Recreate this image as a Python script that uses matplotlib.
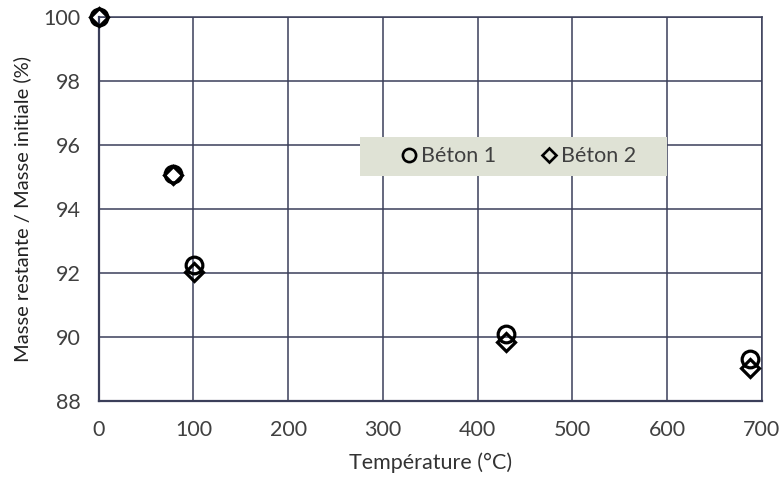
import matplotlib
matplotlib.use('Agg')
import matplotlib.pyplot as plt
from matplotlib.lines import Line2D
from matplotlib.patches import Rectangle

plt.rcParams['font.family'] = ['Lato', 'DejaVu Sans']

# données
temp_1 = [0, 78, 101, 430, 687]
masse_1 = [100, 95.1, 92.25, 90.1, 89.3]
temp_2 = [0, 78, 101, 430, 687]
masse_2 = [100, 95.05, 92.03, 89.85, 89.03]

x_ticks = [0, 100, 200, 300, 400, 500, 600, 700]
y_ticks = [88, 90, 92, 94, 96, 98, 100]

grid_col = '#3b3f5a'
txt_col = '#404040'

fig = plt.figure(figsize=(7.83, 4.86), dpi=100)
ax = fig.add_axes([0.126, 0.175, 0.847, 0.79])

ax.plot(temp_1, masse_1, linestyle='none', marker='o', markersize=12,
        markerfacecolor='none', markeredgecolor='black', markeredgewidth=2.3,
        label='Béton 1', zorder=3, clip_on=False)
ax.plot(temp_2, masse_2, linestyle='none', marker='D', markersize=9.5,
        markerfacecolor='none', markeredgecolor='black', markeredgewidth=2.3,
        label='Béton 2', zorder=3, clip_on=False)

ax.set_xlim(0, 700)
ax.set_ylim(88, 100)
ax.set_xticks(x_ticks)
ax.set_yticks(y_ticks)
ax.grid(True, color=grid_col, linewidth=1.1)
ax.set_axisbelow(True)
for s in ax.spines.values():
    s.set_color(grid_col)
    s.set_linewidth(1.1)
ax.spines['left'].set_linewidth(1.6)
ax.spines['bottom'].set_linewidth(1.6)
ax.tick_params(axis='both', length=0, labelsize=15.5, labelcolor=txt_col)
ax.tick_params(axis='x', pad=14)
ax.tick_params(axis='y', pad=13)

ax.set_xlabel('Température (°C)', fontsize=15.5, color='#333333', labelpad=9)
ax.set_ylabel('Masse restante / Masse initiale (%)', fontsize=14.5,
              color='#222222', labelpad=9)

# fond de la légende
ax.add_patch(Rectangle((0.394, 0.586), 0.463, 0.1015, transform=ax.transAxes,
                       facecolor='#dfe2d5', edgecolor='none', zorder=4))

handles = [
    Line2D([], [], linestyle='none', marker='o', markersize=9.5,
           markerfacecolor='none', markeredgecolor='black', markeredgewidth=1.9),
    Line2D([], [], linestyle='none', marker='D', markersize=7.5,
           markerfacecolor='none', markeredgecolor='black', markeredgewidth=1.9),
]
leg = ax.legend(handles, ['Béton 1', 'Béton 2'], ncol=2, loc='center',
                bbox_to_anchor=(0.630, 0.637), frameon=False,
                fontsize=15.5, handletextpad=0.0, columnspacing=1.9,
                borderpad=0, handlelength=1.1, borderaxespad=0)
leg.set_zorder(5)
for t in leg.get_texts():
    t.set_color(txt_col)

fig.savefig('out.png', dpi=100)
